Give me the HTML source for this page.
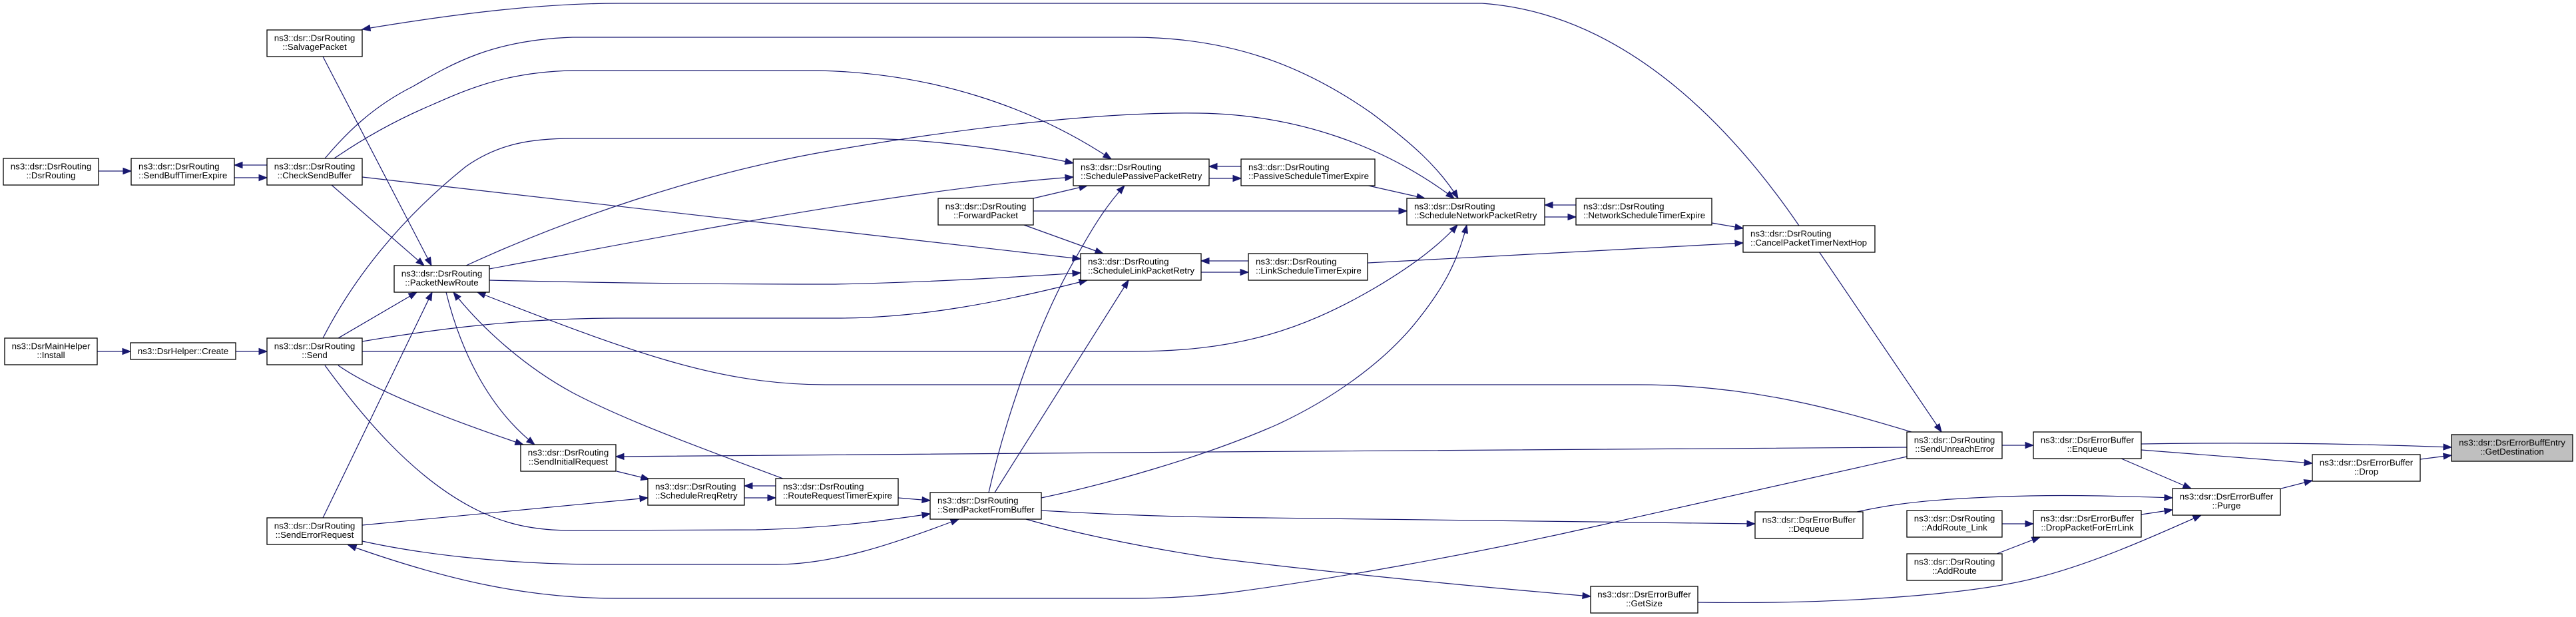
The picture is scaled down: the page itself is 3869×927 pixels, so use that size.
<!DOCTYPE html>
<html><head><meta charset="utf-8">
<style>
html,body{margin:0;padding:0;background:#fff;}
svg{display:block;}
text{font-family:"Liberation Sans",Arial,sans-serif;font-size:13.33px;fill:#000;}
.e{fill:none;stroke:#191970;stroke-width:1.2;marker-end:url(#ah);}
.n{fill:#fff;stroke:#000;stroke-width:1.3;}
.g{fill:#bfbfbf;stroke:#000;stroke-width:1.3;}
.c{text-anchor:middle;}
</style></head>
<body>
<svg width="3869" height="927" viewBox="0 0 3869 927" xmlns="http://www.w3.org/2000/svg">
<defs>
<marker id="ah" markerUnits="userSpaceOnUse" markerWidth="14" markerHeight="10" refX="12" refY="4.5" orient="auto" overflow="visible">
<path d="M0,0 L12,4.5 L0,9 z" fill="#191970" stroke="#191970" stroke-width="1"/>
</marker>
</defs>
<rect width="3869" height="927" fill="#fff"/>

<!-- edges -->
<path class="e" d="M148,257 L197,257"/>
<path class="e" d="M401,248 L352,248"/>
<path class="e" d="M352,267 L401,267"/>
<path class="e" d="M146,528 L196,528"/>
<path class="e" d="M354,528 L401,528"/>
<path class="e" d="M485,85 L648,399"/>
<path class="e" d="M498,278 L637,399"/>
<path class="e" d="M508,508 L626,439"/>
<path class="e" d="M485,778 L649,439"/>
<path class="e" d="M1176,719 C1050,672 940,632 860,590 C790,552 725,495 681,439"/>
<path class="e" d="M2871,649 C2780,622 2640,578 2460,578 L1240,578 C1080,578 950,530 717,439"/>
<path class="e" d="M670,439 C690,520 730,610 803,668"/>
<path class="e" d="M508,549 C545,575 620,612 786,668"/>
<path class="e" d="M2864,672 C2400,676 1500,680 925,686"/>
<path class="e" d="M926,708 L975,720"/>
<path class="e" d="M544,789 L973,748"/>
<path class="e" d="M1165,730 L1118,730"/>
<path class="e" d="M1118,748 L1165,748"/>
<path class="e" d="M1349,748 L1397,752"/>
<path class="e" d="M488,549 C540,620 620,720 720,768 C760,787 800,797 860,797 L1136,796 C1250,793 1330,782 1397,772"/>
<path class="e" d="M544,813 C620,830 750,848 900,848 L1166,848 C1250,848 1340,818 1440,780"/>
<path class="e" d="M2864,686 L2391,792 C2200,835 2000,870 1850,890 C1800,896 1750,899 1700,899 L927,899 C800,899 680,875 523,819"/>
<path class="e" d="M3007,669 L3054,669"/>
<path class="e" d="M2732,378 L2916,649"/>
<path class="e" d="M2702,339 C2600,190 2440,20 2226,5 L930,5 C820,5 700,18 544,44"/>
<path class="e" d="M488,238 C520,200 560,160 620,130 C680,95 740,60 860,56 L1700,56 C1850,56 1960,100 2060,170 C2120,215 2160,250 2190,298"/>
<path class="e" d="M502,238 C550,205 600,178 650,157 C700,135 760,108 860,106 L1230,106 C1400,110 1550,160 1669,239"/>
<path class="e" d="M485,508 C530,420 600,330 700,250 C750,215 800,208 860,208 L1300,208 C1420,210 1530,228 1612,245"/>
<path class="e" d="M700,399 C850,330 1050,260 1250,226 C1450,192 1650,168 1800,170 C1950,172 2080,220 2184,298"/>
<path class="e" d="M735,404 C1000,355 1350,285 1612,266"/>
<path class="e" d="M544,266 L1623,389"/>
<path class="e" d="M735,421 C900,425 1100,427 1255,427 C1400,424 1530,416 1623,410"/>
<path class="e" d="M544,513 C650,495 780,478 927,478 L1255,478 C1380,478 1500,455 1633,421"/>
<path class="e" d="M544,528 L1700,528 C1850,528 1950,500 2066,432 C2120,400 2160,370 2189,338"/>
<path class="e" d="M1552,298 L1633,279"/>
<path class="e" d="M1552,317 L2113,317"/>
<path class="e" d="M1538,338 L1657,381"/>
<path class="e" d="M1485,740 C1510,630 1560,480 1620,380 C1645,335 1665,305 1689,279"/>
<path class="e" d="M1494,740 L1695,421"/>
<path class="e" d="M1564,748 C1650,730 1800,690 1918,638 C2000,600 2080,544 2130,480 C2170,430 2190,390 2203,338"/>
<path class="e" d="M1564,767 C1680,774 1780,777 1900,778 L2636,787"/>
<path class="e" d="M1541,780 C1600,797 1700,820 1827,839 C2000,860 2200,880 2389,896"/>
<path class="e" d="M1864,250 L1816,250"/>
<path class="e" d="M1816,268 L1864,268"/>
<path class="e" d="M2051,278 L2140,298"/>
<path class="e" d="M1875,392 L1804,392"/>
<path class="e" d="M1804,409 L1875,409"/>
<path class="e" d="M2054,395 L2618,365"/>
<path class="e" d="M2367,308 L2320,308"/>
<path class="e" d="M2320,326 L2367,326"/>
<path class="e" d="M2571,335 L2618,343"/>
<path class="e" d="M3216,667 C3400,664 3550,667 3682,672"/>
<path class="e" d="M3216,676 L3473,696"/>
<path class="e" d="M3186,689 L3291,734"/>
<path class="e" d="M3635,690 L3682,684"/>
<path class="e" d="M3426,734 L3473,722"/>
<path class="e" d="M3216,773 L3263,766"/>
<path class="e" d="M3007,787 L3054,787"/>
<path class="e" d="M2999,832 L3064,807"/>
<path class="e" d="M2789,769 C2830,760 2870,754 2930,750 C3050,742 3150,744 3263,748"/>
<path class="e" d="M2550,905 C2750,908 2950,895 3055,869 C3140,848 3230,808 3306,774"/>

<!-- nodes -->
<rect class="n" x="5" y="238" width="143" height="40"/>
<text class="c" x="76.5" y="254.5">ns3::dsr::DsrRouting</text><text class="c" x="76.5" y="268">::DsrRouting</text>

<rect class="n" x="197" y="238" width="155" height="40"/>
<text x="208" y="254.5">ns3::dsr::DsrRouting</text><text x="208" y="268">::SendBuffTimerExpire</text>

<rect class="n" x="401" y="238" width="143" height="40"/>
<text class="c" x="472.5" y="254.5">ns3::dsr::DsrRouting</text><text class="c" x="472.5" y="268">::CheckSendBuffer</text>

<rect class="n" x="401" y="45" width="143" height="40"/>
<text class="c" x="472.5" y="61.5">ns3::dsr::DsrRouting</text><text class="c" x="472.5" y="75">::SalvagePacket</text>

<rect class="n" x="592" y="399" width="143" height="40"/>
<text class="c" x="663.5" y="415.5">ns3::dsr::DsrRouting</text><text class="c" x="663.5" y="429">::PacketNewRoute</text>

<rect class="n" x="7" y="508" width="139" height="40"/>
<text class="c" x="76.5" y="524.5">ns3::DsrMainHelper</text><text class="c" x="76.5" y="538">::Install</text>

<rect class="n" x="196" y="515" width="158" height="25"/>
<text class="c" x="275" y="532">ns3::DsrHelper::Create</text>

<rect class="n" x="401" y="508" width="143" height="40"/>
<text class="c" x="472.5" y="524.5">ns3::dsr::DsrRouting</text><text class="c" x="472.5" y="538">::Send</text>

<rect class="n" x="401" y="778" width="143" height="40"/>
<text class="c" x="472.5" y="794.5">ns3::dsr::DsrRouting</text><text class="c" x="472.5" y="808">::SendErrorRequest</text>

<rect class="n" x="782" y="668" width="143" height="40"/>
<text class="c" x="853.5" y="684.5">ns3::dsr::DsrRouting</text><text class="c" x="853.5" y="698">::SendInitialRequest</text>

<rect class="n" x="1612" y="239" width="204" height="40"/>
<text x="1623" y="255.5">ns3::dsr::DsrRouting</text><text x="1623" y="269">::SchedulePassivePacketRetry</text>

<rect class="n" x="1409" y="298" width="143" height="40"/>
<text class="c" x="1480.5" y="314.5">ns3::dsr::DsrRouting</text><text class="c" x="1480.5" y="328">::ForwardPacket</text>

<rect class="n" x="1623" y="381" width="181" height="40"/>
<text x="1634" y="397.5">ns3::dsr::DsrRouting</text><text x="1634" y="411">::ScheduleLinkPacketRetry</text>

<rect class="n" x="973" y="719" width="145" height="40"/>
<text x="984" y="735.5">ns3::dsr::DsrRouting</text><text x="984" y="749">::ScheduleRreqRetry</text>

<rect class="n" x="1165" y="719" width="184" height="40"/>
<text x="1176" y="735.5">ns3::dsr::DsrRouting</text><text x="1176" y="749">::RouteRequestTimerExpire</text>

<rect class="n" x="1397" y="740" width="167" height="40"/>
<text x="1408" y="756.5">ns3::dsr::DsrRouting</text><text x="1408" y="770">::SendPacketFromBuffer</text>

<rect class="n" x="1864" y="239" width="201" height="40"/>
<text x="1875" y="255.5">ns3::dsr::DsrRouting</text><text x="1875" y="269">::PassiveScheduleTimerExpire</text>

<rect class="n" x="2113" y="298" width="207" height="40"/>
<text x="2124" y="314.5">ns3::dsr::DsrRouting</text><text x="2124" y="328">::ScheduleNetworkPacketRetry</text>

<rect class="n" x="2367" y="298" width="204" height="40"/>
<text x="2378" y="314.5">ns3::dsr::DsrRouting</text><text x="2378" y="328">::NetworkScheduleTimerExpire</text>

<rect class="n" x="2618" y="339" width="198" height="40"/>
<text x="2629" y="355.5">ns3::dsr::DsrRouting</text><text x="2629" y="369">::CancelPacketTimerNextHop</text>

<rect class="n" x="1875" y="381" width="179" height="40"/>
<text x="1886" y="397.5">ns3::dsr::DsrRouting</text><text x="1886" y="411">::LinkScheduleTimerExpire</text>

<rect class="n" x="2636" y="769" width="162" height="40"/>
<text class="c" x="2717" y="785.5">ns3::dsr::DsrErrorBuffer</text><text class="c" x="2717" y="799">::Dequeue</text>

<rect class="n" x="2389" y="881" width="161" height="40"/>
<text class="c" x="2469.5" y="897.5">ns3::dsr::DsrErrorBuffer</text><text class="c" x="2469.5" y="911">::GetSize</text>

<rect class="n" x="2864" y="649" width="143" height="40"/>
<text class="c" x="2935.5" y="665.5">ns3::dsr::DsrRouting</text><text class="c" x="2935.5" y="679">::SendUnreachError</text>

<rect class="n" x="3054" y="649" width="162" height="40"/>
<text class="c" x="3135" y="665.5">ns3::dsr::DsrErrorBuffer</text><text class="c" x="3135" y="679">::Enqueue</text>

<rect class="n" x="3473" y="683" width="162" height="40"/>
<text class="c" x="3554" y="699.5">ns3::dsr::DsrErrorBuffer</text><text class="c" x="3554" y="713">::Drop</text>

<rect class="n" x="3263" y="734" width="162" height="40"/>
<text class="c" x="3344" y="750.5">ns3::dsr::DsrErrorBuffer</text><text class="c" x="3344" y="764">::Purge</text>

<rect class="n" x="2864" y="767" width="143" height="40"/>
<text class="c" x="2935.5" y="783.5">ns3::dsr::DsrRouting</text><text class="c" x="2935.5" y="797">::AddRoute_Link</text>

<rect class="n" x="3054" y="767" width="162" height="40"/>
<text class="c" x="3135" y="783.5">ns3::dsr::DsrErrorBuffer</text><text class="c" x="3135" y="797">::DropPacketForErrLink</text>

<rect class="n" x="2864" y="832" width="143" height="40"/>
<text class="c" x="2935.5" y="848.5">ns3::dsr::DsrRouting</text><text class="c" x="2935.5" y="862">::AddRoute</text>

<rect class="g" x="3682" y="653" width="182" height="40"/>
<text class="c" x="3773" y="669.5">ns3::dsr::DsrErrorBuffEntry</text><text class="c" x="3773" y="683">::GetDestination</text>
</svg>
</body></html>
